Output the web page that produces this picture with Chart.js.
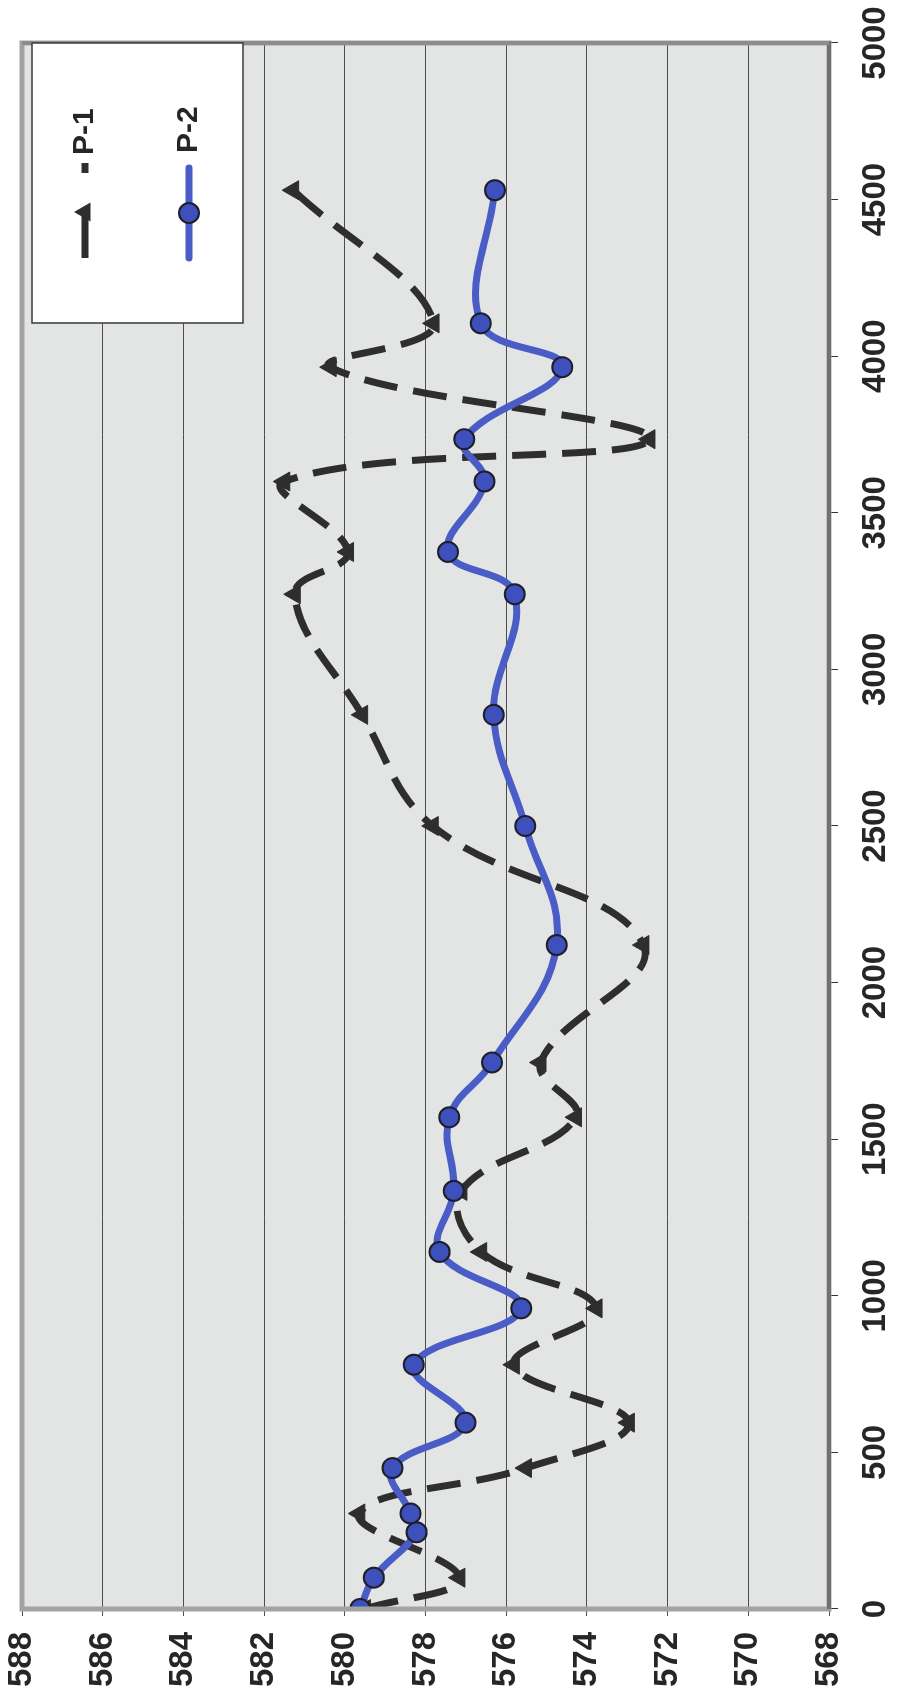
<!DOCTYPE html>
<html><head><meta charset="utf-8">
<script src="https://cdn.jsdelivr.net/npm/chart.js@4.4.1/dist/chart.umd.min.js"></script>
<style>
html,body{margin:0;padding:0;background:#fff;width:901px;height:1707px;overflow:hidden;}
#wrap{position:absolute;left:-403px;top:403px;width:1707px;height:901px;transform:rotate(-90deg);transform-origin:853.5px 450.5px;}
canvas{display:block;}
</style></head><body>
<div id="wrap"><canvas id="c" width="1707" height="901"></canvas></div>
<script>
// Distance along section (horizontal axis of the original chart)
const p1Distance = [0, 100, 305, 450, 595, 780, 960, 1140, 1335, 1570, 1745, 2120, 2500, 2855, 3240, 3375, 3600, 3735, 3965, 4105, 4530];
const p1Level    = [579.5, 577.16, 579.64, 575.51, 572.96, 575.81, 573.76, 576.62, 577.11, 574.27, 575.15, 572.60, 577.82, 579.57, 581.24, 579.92, 581.50, 572.45, 580.35, 577.80, 581.28];
const p2Distance = [0, 100, 245, 305, 450, 595, 780, 960, 1140, 1335, 1570, 1745, 2120, 2500, 2855, 3240, 3375, 3600, 3735, 3965, 4105, 4530];
const p2Level    = [579.62, 579.28, 578.22, 578.37, 578.82, 577.01, 578.29, 575.63, 577.65, 577.30, 577.41, 576.35, 574.75, 575.53, 576.31, 575.79, 577.44, 576.54, 577.04, 574.61, 576.63, 576.28];
const seriesNames = ['P-1', 'P-2'];
const distanceRange = [0, 5000, 500];
const levelRange = [568, 588, 2];

const P1_COLOR = '#2e2e2e';
const P2_LINE = '#4a5cc6';
const P2_FILL = '#3e50bb';
const TICK_FONT = {family: '"Liberation Sans", Arial, sans-serif', size: 33, weight: 'bold'};

const bgPlugin = {
  id: 'bg',
  beforeDraw(chart) {
    const {ctx, chartArea: a} = chart;
    ctx.save();
    ctx.fillStyle = '#ffffff';
    ctx.fillRect(0, 0, chart.width, chart.height);
    ctx.fillStyle = '#e3e5e4';
    ctx.fillRect(a.left, a.top, a.right - a.left, a.bottom - a.top);
    ctx.restore();
  },
  afterDatasetsDraw(chart) {
    const {ctx, chartArea: a} = chart;
    ctx.save();
    ctx.strokeStyle = '#a2a4a3';
    ctx.lineWidth = 5;
    ctx.strokeRect(a.left, a.top, a.right - a.left, a.bottom - a.top);
    ctx.strokeStyle = '#6f706f';
    ctx.lineWidth = 4;
    ctx.beginPath();
    ctx.moveTo(a.left, a.bottom);
    ctx.lineTo(a.right + 2, a.bottom);
    ctx.stroke();
    ctx.strokeStyle = '#8c8d8c';
    ctx.beginPath();
    ctx.moveTo(a.right, a.top);
    ctx.lineTo(a.right, a.bottom);
    ctx.stroke();
    ctx.restore();
  }
};

const legendPlugin = {
  id: 'boxLegend',
  afterDraw(chart) {
    const ctx = chart.ctx;
    const bx = 1384, by = 32, bw = 280, bh = 211;
    ctx.save();
    ctx.fillStyle = '#ffffff';
    ctx.fillRect(bx, by, bw, bh);
    ctx.strokeStyle = '#3a3a3a';
    ctx.lineWidth = 1.5;
    ctx.strokeRect(bx, by, bw, bh);
    const y1 = 85;
    ctx.strokeStyle = P1_COLOR;
    ctx.lineWidth = 7;
    ctx.setLineDash([45, 40]);
    ctx.beginPath(); ctx.moveTo(1449, y1); ctx.lineTo(1544, y1); ctx.stroke();
    ctx.setLineDash([]);
    ctx.fillStyle = P1_COLOR;
    const r = 11;
    ctx.beginPath();
    ctx.moveTo(1495, y1 - r);
    ctx.lineTo(1495 + r * 0.866, y1 + r * 0.5);
    ctx.lineTo(1495 - r * 0.866, y1 + r * 0.5);
    ctx.closePath(); ctx.fill();
    const y2 = 189;
    ctx.strokeStyle = P2_LINE;
    ctx.lineWidth = 7;
    ctx.lineCap = 'round';
    ctx.beginPath(); ctx.moveTo(1449, y2); ctx.lineTo(1539, y2); ctx.stroke();
    ctx.fillStyle = P2_FILL;
    ctx.strokeStyle = '#1f1f2a';
    ctx.lineWidth = 2;
    ctx.beginPath(); ctx.arc(1494, y2, 10, 0, Math.PI * 2); ctx.fill(); ctx.stroke();
    ctx.fillStyle = '#262626';
    ctx.font = 'bold 30px "Liberation Sans", Arial, sans-serif';
    ctx.textBaseline = 'middle';
    ctx.textAlign = 'left';
    ctx.fillText(seriesNames[0], 1552, y1);
    ctx.fillText(seriesNames[1], 1554, y2);
    ctx.restore();
  }
};

new Chart(document.getElementById('c'), {
  type: 'scatter',
  data: {
    datasets: [
      {
        label: seriesNames[0],
        data: p1Distance.map((d, i) => ({x: d, y: p1Level[i]})),
        showLine: true,
        borderColor: P1_COLOR,
        borderWidth: 7,
        borderDash: [34, 16],
        tension: 0.4,
        pointStyle: 'triangle',
        pointRadius: 11,
        pointBackgroundColor: P1_COLOR,
        pointBorderColor: P1_COLOR,
        pointBorderWidth: 1,
        order: 2
      },
      {
        label: seriesNames[1],
        data: p2Distance.map((d, i) => ({x: d, y: p2Level[i]})),
        showLine: true,
        borderColor: P2_LINE,
        borderWidth: 7,
        tension: 0.4,
        pointStyle: 'circle',
        pointRadius: 10,
        pointBackgroundColor: P2_FILL,
        pointBorderColor: '#1f1f2a',
        pointBorderWidth: 2,
        order: 1
      }
    ]
  },
  options: {
    responsive: false,
    animation: false,
    devicePixelRatio: 1,
    layout: {padding: {top: 22, right: 43, left: 0, bottom: 0}},
    plugins: {legend: {display: false}, tooltip: {enabled: false}},
    scales: {
      x: {
        type: 'linear', position: 'bottom',
        min: distanceRange[0], max: distanceRange[1],
        ticks: {stepSize: distanceRange[2], font: TICK_FONT, color: '#262626', padding: 18, maxRotation: 0, minRotation: 0, autoSkip: false,
                callback: v => String(v)},
        grid: {drawOnChartArea: false, tickLength: 9, color: '#333', lineWidth: 1},
        border: {display: false},
        afterFit(s) { s.height = 72; s.paddingLeft = 0; s.paddingRight = 0; }
      },
      y: {
        type: 'linear', position: 'left',
        min: levelRange[0], max: levelRange[1],
        ticks: {stepSize: levelRange[2], font: TICK_FONT, color: '#262626', padding: 16, autoSkip: false,
                callback: v => String(v)},
        grid: {color: '#4d4d4d', lineWidth: 1, tickLength: 7},
        border: {display: false},
        afterFit(s) { s.width = 98; s.paddingTop = 0; s.paddingBottom = 0; }
      }
    }
  },
  plugins: [bgPlugin, legendPlugin]
});
</script>
</body></html>
